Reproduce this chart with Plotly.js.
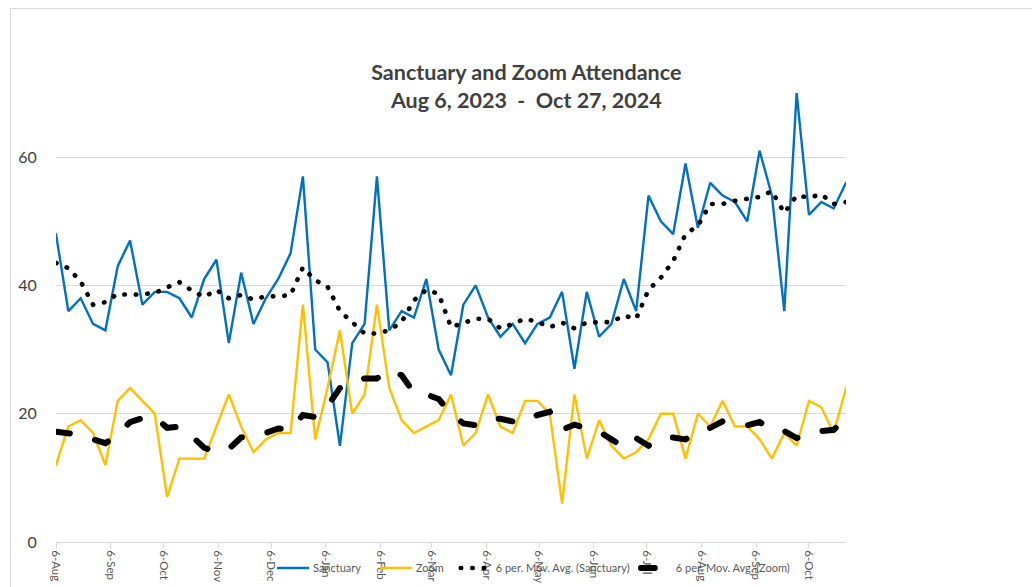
<!DOCTYPE html>
<html>
<head>
<meta charset="utf-8">
<script src="https://cdn.plot.ly/plotly-3.0.1.min.js"></script>
<style>
  html, body { margin:0; padding:0; background:#ffffff; overflow:hidden; }
  #chart { width:1032px; height:587px; position:absolute; left:0; top:0; }
  #frame { position:absolute; left:10px; top:8px; width:3000px; height:3000px;
           border-left:1px solid #d9d9d9; border-top:1px solid #d9d9d9;
           pointer-events:none; z-index:5; }
  .js-line { stroke-linecap: round !important; }
</style>
</head>
<body>
<div id="frame"></div>
<div id="chart"></div>
<script>
// Weekly Sundays, Aug 6 2023 – Oct 27 2024
const dates = [
  '2023-08-06','2023-08-13','2023-08-20','2023-08-27',
  '2023-09-03','2023-09-10','2023-09-17','2023-09-24',
  '2023-10-01','2023-10-08','2023-10-15','2023-10-22','2023-10-29',
  '2023-11-05','2023-11-12','2023-11-19','2023-11-26',
  '2023-12-03','2023-12-10','2023-12-17','2023-12-24','2023-12-31',
  '2024-01-07','2024-01-14','2024-01-21','2024-01-28',
  '2024-02-04','2024-02-11','2024-02-18','2024-02-25',
  '2024-03-03','2024-03-10','2024-03-17','2024-03-24','2024-03-31',
  '2024-04-07','2024-04-14','2024-04-21','2024-04-28',
  '2024-05-05','2024-05-12','2024-05-19','2024-05-26',
  '2024-06-02','2024-06-09','2024-06-16','2024-06-23','2024-06-30',
  '2024-07-07','2024-07-14','2024-07-21','2024-07-28',
  '2024-08-04','2024-08-11','2024-08-18','2024-08-25',
  '2024-09-01','2024-09-08','2024-09-15','2024-09-22','2024-09-29',
  '2024-10-06','2024-10-13','2024-10-20','2024-10-27'
];

const sanctuary = [
  48,36,38,34,33,43,47,37,39,39,38,35,41,44,31,42,34,38,41,45,57,30,
  28,15,31,34,57,33,36,35,41,30,26,37,40,35,32,34,31,34,35,39,27,39,
  32,34,41,36,54,50,48,59,49,56,54,53,50,61,54,36,70,51,53,52,56
];

const zoom = [
  12,18,19,17,12,22,24,22,20,7,13,13,13,18,23,18,14,16,17,17,37,16,
  24,33,20,23,37,24,19,17,18,19,23,15,17,23,18,17,22,22,20,6,23,13,
  19,15,13,14,16,20,20,13,20,18,22,18,18,16,13,17,15,22,21,17,24
];

const sanctuaryMA = [
  43.5,42.7,40.6,37.0,37.4,38.7,38.5,38.7,38.8,39.7,40.5,39.2,38.2,39.3,38.0,38.5,37.8,38.3,38.3,38.5,42.8,40.8,
  39.8,36.0,34.3,32.5,32.5,33.0,34.3,37.7,39.3,38.7,33.5,34.2,34.8,34.8,33.3,34.0,34.8,34.3,33.5,34.2,33.3,34.2,
  34.3,34.3,35.3,34.8,39.3,41.2,43.8,48.0,49.3,52.7,52.7,53.2,53.5,53.8,54.7,51.3,54.0,53.7,54.2,52.7,53.0
];

const zoomMA = [
  17.2,17.0,16.7,16.0,15.4,16.7,18.7,19.3,19.5,17.8,18.0,16.5,14.7,14.0,14.5,16.3,16.5,17.0,17.7,17.5,19.8,19.5,
  21.2,24.0,24.5,25.5,25.5,26.8,26.0,23.3,23.0,22.3,20.0,18.5,18.2,19.2,19.2,18.8,18.7,19.8,20.3,17.5,18.3,17.7,
  17.2,16.0,14.8,16.2,15.0,16.2,16.3,16.0,17.2,17.8,18.8,18.5,18.2,18.7,17.5,17.3,16.2,16.8,17.3,17.5,19.3
];

const tickDates = [
  '2023-08-06','2023-09-06','2023-10-06','2023-11-06','2023-12-06',
  '2024-01-06','2024-02-06','2024-03-06','2024-04-06','2024-05-06',
  '2024-06-06','2024-07-06','2024-08-06','2024-09-06','2024-10-06'
];
const tickLabels = [
  '6-Aug','6-Sep','6-Oct','6-Nov','6-Dec','6-Jan','6-Feb','6-Mar',
  '6-Apr','6-May','6-Jun','6-Jul','6-Aug','6-Sep','6-Oct'
];

const seriesNames = ['Sanctuary','Zoom','6 per. Mov. Avg. (Sanctuary)','6 per. Mov. Avg. (Zoom)'];

const FONT = 'Lato, "Open Sans", "DejaVu Sans", sans-serif';

const traces = [
  { x: dates, y: sanctuary, name: seriesNames[0], type: 'scatter', mode: 'lines',
    legend: 'legend', line: { color: '#0070C0', width: 2.4 } },
  { x: dates, y: zoom, name: seriesNames[1], type: 'scatter', mode: 'lines',
    legend: 'legend2', line: { color: '#FFC000', width: 2.4 } },
  { x: dates, y: sanctuaryMA, name: seriesNames[2], type: 'scatter', mode: 'lines',
    legend: 'legend3', line: { color: '#000000', width: 4.6, dash: '0.5px,11px' } },
  { x: dates, y: zoomMA, name: seriesNames[3], type: 'scatter', mode: 'lines',
    legend: 'legend4', line: { color: '#000000', width: 6, dash: '14px,26px' } }
];

function legendAt(xp) {
  return {
    orientation: 'h', x: xp, xanchor: 'left', y: -0.058, yanchor: 'middle',
    bgcolor: 'rgba(0,0,0,0)', font: { family: FONT, size: 11, color: '#595959' }
  };
}

const layout = {
  width: 1032, height: 587,
  margin: { l: 56, r: 186, t: 93, b: 45, autoexpand: false },
  paper_bgcolor: 'rgba(0,0,0,0)', plot_bgcolor: 'rgba(0,0,0,0)',
  font: { family: FONT, color: '#595959' },
  title: {
    text: 'Sanctuary and Zoom Attendance<br>Aug 6, 2023\u00A0\u00A0-\u00A0\u00A0Oct 27, 2024',
    font: { family: FONT, size: 21.5, color: '#404040', weight: 'bold' },
    x: 0.51, xanchor: 'center', xref: 'container',
    y: 0.864, yanchor: 'top', yref: 'container'
  },
  xaxis: {
    type: 'date', range: ['2023-08-06', '2024-10-27'],
    tickmode: 'array', tickvals: tickDates, ticktext: tickLabels,
    tickangle: 90, showgrid: false, zeroline: false,
    showline: true, linecolor: '#d9d9d9', linewidth: 1,
    ticks: 'outside', ticklen: 5, tickcolor: '#d9d9d9',
    tickfont: { family: FONT, size: 11.5, color: '#595959' },
    automargin: false, fixedrange: true
  },
  yaxis: {
    range: [0, 70], tickmode: 'array', tickvals: [0, 20, 40, 60],
    showgrid: true, gridcolor: '#d9d9d9', gridwidth: 1,
    zeroline: false, showline: false,
    ticks: 'outside', ticklen: 15, tickcolor: 'rgba(0,0,0,0)',
    tickfont: { family: FONT, size: 16, color: '#404040' },
    automargin: false, fixedrange: true
  },
  showlegend: true,
  legend: legendAt(0.2747),
  legend2: legendAt(0.405),
  legend3: legendAt(0.506),
  legend4: legendAt(0.734)
};

Plotly.newPlot('chart', traces, layout, { staticPlot: true, displayModeBar: false });
</script>
</body>
</html>
